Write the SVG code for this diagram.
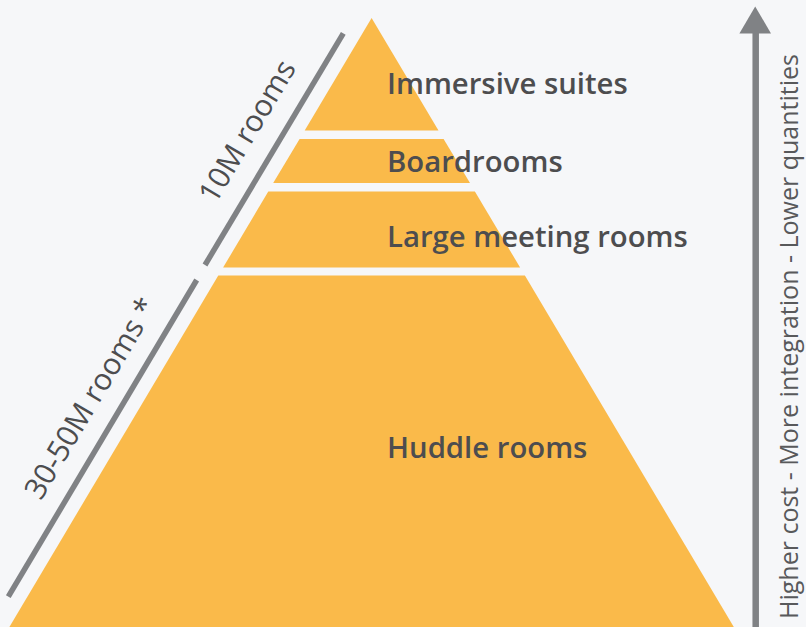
<svg xmlns="http://www.w3.org/2000/svg" width="806" height="627" viewBox="0 0 806 627">
<style>
.band{fill:#FABA4A}
.lbl{font-family:"Open Sans","Noto Sans",sans-serif;font-size:29.3px;font-weight:600;fill:#4D4D4F}
.side{font-family:"Open Sans","Noto Sans",sans-serif;font-size:30px;font-weight:400;fill:#4D4D4F}
.axis{font-family:"Open Sans","Noto Sans",sans-serif;font-size:25px;font-weight:400;fill:#58595B}
.bar{stroke:#808285;stroke-width:5.5;fill:none}
</style>
<rect width="806" height="627" fill="#F6F7F9"/>
<g id="immersive-suites">
<polygon class="band" points="371.6,18 438.5,130.5 304.7,130.5"/>
<text class="lbl" x="387" y="94.3">Immersive suites</text>
</g>
<g id="boardrooms">
<polygon class="band" points="299.6,139 443.6,139 470,183 273.2,183"/>
<text class="lbl" x="387" y="171.5">Boardrooms</text>
</g>
<g id="large-meeting-rooms">
<polygon class="band" points="268.3,191.5 474.9,191.5 520.1,267.5 223.1,267.5"/>
<text class="lbl" x="387" y="246.7">Large meeting rooms</text>
</g>
<g id="huddle-rooms">
<polygon class="band" points="218.3,275.5 524.9,275.5 733.8,627 9.4,627"/>
<text class="lbl" x="387" y="458.3">Huddle rooms</text>
</g>
<g id="connectors">
<line class="bar" x1="343.3" y1="33.3" x2="205" y2="265"/>
<line class="bar" x1="196.7" y1="280" x2="8.3" y2="596.7"/>
<line x1="755.7" y1="30" x2="755.7" y2="627" stroke="#808285" stroke-width="6.5"/>
<polygon points="755.2,6.5 771,33.5 739.4,33.5" fill="#808285"/>
</g>
<g id="label-10m">
<text class="side" text-anchor="middle" transform="translate(256,136.5) rotate(-59.2)">10M rooms</text>
</g>
<g id="label-30-50m">
<text class="side" text-anchor="middle" transform="translate(99.3,403.5) rotate(-59.2)">30-50M rooms *</text>
</g>
<g id="label-axis">
<text class="axis" text-anchor="middle" transform="translate(798,336.5) rotate(-90)">Higher cost - More integration - Lower quantities</text>
</g>
</svg>
